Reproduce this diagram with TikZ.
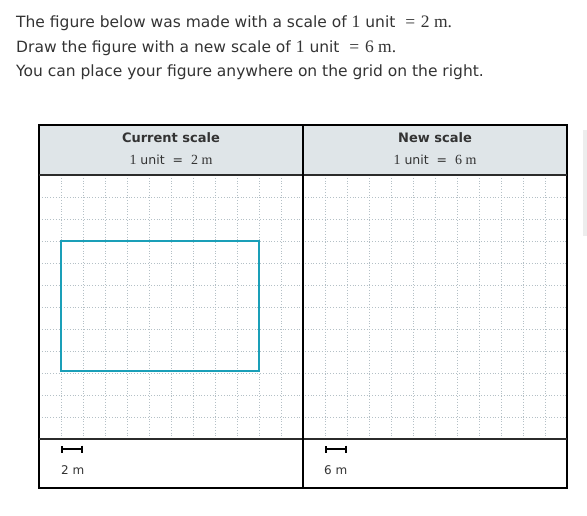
\documentclass[tikz,border=0pt]{standalone}
\usepackage[no-math]{fontspec}
\setmainfont{DejaVu Sans}
\newfontfamily\serifnum{Liberation Serif}
\usetikzlibrary{arrows.meta}
\definecolor{headfill}{HTML}{DFE5E8}
\definecolor{gridcol}{HTML}{B4C0C6}
\definecolor{figcol}{HTML}{1A9FB8}
\definecolor{labcol}{HTML}{333333}
\definecolor{rulecol}{HTML}{2B2B2B}
\newcommand{\sn}[1]{{\serifnum\fontsize{17.5}{17}\selectfont #1}}
\newcommand{\snh}[1]{{\serifnum\fontsize{14}{14}\selectfont #1}}

\tikzset{
  prompt/.style={anchor=base west, inner sep=0pt, text=labcol, font=\fontsize{15.5}{17}\selectfont},
  headtitle/.style={inner sep=0pt, text=labcol, font=\bfseries\fontsize{13}{15}\selectfont},
  headscale/.style={inner sep=0pt, text=labcol, font=\fontsize{12.5}{14}\selectfont},
  barlabel/.style={anchor=west, inner sep=0pt, text=labcol, font=\fontsize{12}{14}\selectfont},
  gridline/.style={gridcol, dotted, line width=0.8pt},
  frame/.style={line width=1.5pt},
  scalebar/.style={line width=1.6pt, {Bar[width=7pt]}-{Bar[width=7pt]}},
}

\begin{document}
\begin{tikzpicture}[x=1pt, y=-1pt]
  \useasboundingbox (0,0) rectangle (587,516);

  % task text
  \node[prompt] (line1) at (16,28) {The figure below was made with a scale of \sn{1} unit\ \ \sn{=\,\,2 m.}};
  \node[prompt] (line2) at (16,53) {Draw the figure with a new scale of \sn{1} unit\ \ \sn{=\,\,6 m.}};
  \node[prompt] (line3) at (16,77) {You can place your figure anywhere on the grid on the right.};

  % header band
  \fill[headfill] (39,125) rectangle (567,175);
  \fill[black!7] (583,130) rectangle (587,236);

  % grids
  \foreach \i in {1,...,11} {
    \draw[gridline] (39+22*\i,175) -- (39+22*\i,439);
    \draw[gridline] (303+22*\i,175) -- (303+22*\i,439);
    \draw[gridline] (39,175+22*\i) -- (567,175+22*\i);
  }

  % figure at current scale
  \draw[figcol, line width=2.3pt] (61,241) rectangle (259,371);

  % frames
  \draw[frame] (39,125) rectangle (567,488);
  \draw[line width=2pt] (39,125) -- (567,125);
  \draw[rulecol, line width=2pt] (39,175) -- (567,175);
  \draw[rulecol, line width=2pt] (39,439) -- (567,439);
  \draw[line width=2.5pt] (303,125) -- (303,488);

  % headers
  \node[headtitle] (curtitle) at (171,138) {Current scale};
  \node[headscale] (curscale) at (171,160) {\snh{1} unit\ \ =\ \ \snh{2 m}};
  \node[headtitle] (newtitle) at (435,138) {New scale};
  \node[headscale] (newscale) at (435,160) {\snh{1} unit\ \ =\ \ \snh{6 m}};

  % scale bars
  \coordinate (curbarA) at (61,449);
  \coordinate (curbarB) at (83,449);
  \coordinate (newbarA) at (325,449);
  \coordinate (newbarB) at (347,449);
  \draw[scalebar] (curbarA) -- (curbarB);
  \draw[scalebar] (newbarA) -- (newbarB);
  \node[barlabel] (curbarlab) at (61,470) {2 m};
  \node[barlabel] (newbarlab) at (324,470) {6 m};
\end{tikzpicture}
\end{document}
